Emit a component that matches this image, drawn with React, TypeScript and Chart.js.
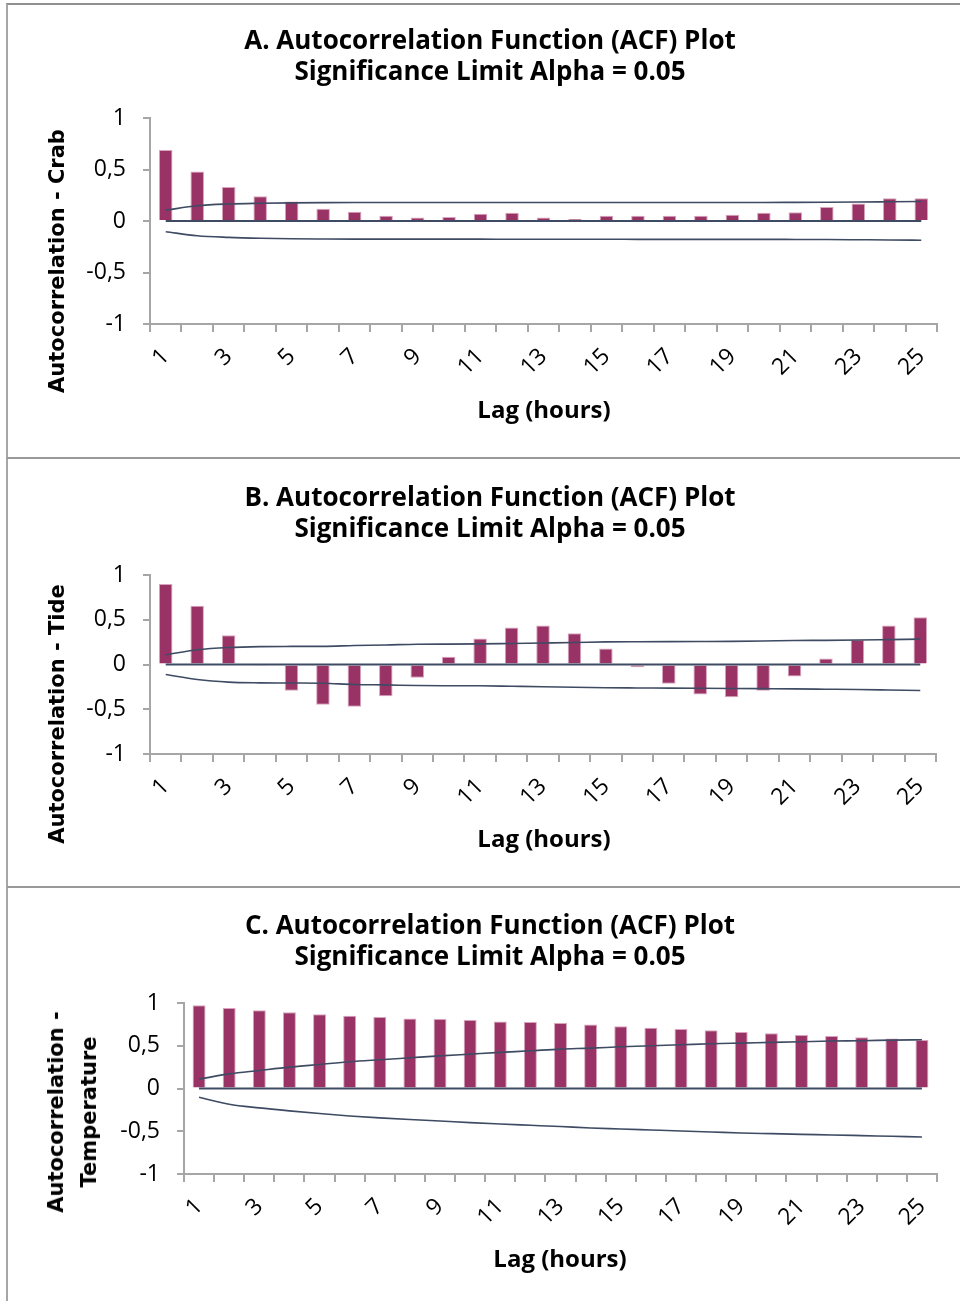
import React, { useEffect, useRef } from "react";
import { Chart, registerables } from "chart.js";

Chart.register(...registerables);

// ---------- data ----------
const lags = ["1", "2", "3", "4", "5", "6", "7", "8", "9", "10", "11", "12", "13", "14", "15", "16", "17", "18", "19", "20", "21", "22", "23", "24", "25"];
const zeroLine = [0, 0, 0, 0, 0, 0, 0, 0, 0, 0, 0, 0, 0, 0, 0, 0, 0, 0, 0, 0, 0, 0, 0, 0, 0];

const crabAcf = [0.69, 0.48, 0.33, 0.24, 0.19, 0.12, 0.09, 0.05, 0.035, 0.04, 0.07, 0.08, 0.035, 0.02, 0.05, 0.05, 0.05, 0.05, 0.06, 0.08, 0.085, 0.135, 0.17, 0.22, 0.22];
const crabUpper = [0.105, 0.148, 0.165, 0.172, 0.176, 0.178, 0.179, 0.179, 0.179, 0.179, 0.179, 0.179, 0.18, 0.18, 0.18, 0.18, 0.18, 0.18, 0.18, 0.18, 0.181, 0.182, 0.184, 0.187, 0.19];
const crabLower = [-0.104, -0.143, -0.159, -0.168, -0.173, -0.175, -0.176, -0.176, -0.176, -0.176, -0.176, -0.177, -0.177, -0.177, -0.177, -0.178, -0.178, -0.178, -0.178, -0.178, -0.179, -0.18, -0.182, -0.184, -0.187];

const tideAcf = [0.9, 0.656, 0.327, -0.015, -0.294, -0.45, -0.473, -0.354, -0.149, 0.086, 0.29, 0.413, 0.436, 0.35, 0.179, -0.03, -0.216, -0.335, -0.365, -0.294, -0.134, 0.067, 0.276, 0.436, 0.529];
const tideUpper = [0.108, 0.164, 0.19, 0.2, 0.202, 0.203, 0.212, 0.218, 0.227, 0.228, 0.23, 0.235, 0.24, 0.245, 0.253, 0.255, 0.256, 0.257, 0.258, 0.262, 0.268, 0.27, 0.273, 0.278, 0.283];
const tideLower = [-0.112, -0.168, -0.197, -0.205, -0.207, -0.21, -0.223, -0.228, -0.235, -0.237, -0.238, -0.243, -0.248, -0.255, -0.26, -0.262, -0.264, -0.266, -0.268, -0.27, -0.272, -0.276, -0.28, -0.285, -0.29];

const tempAcf = [0.973, 0.941, 0.914, 0.891, 0.867, 0.851, 0.836, 0.82, 0.812, 0.8, 0.785, 0.777, 0.765, 0.75, 0.727, 0.71, 0.695, 0.68, 0.66, 0.645, 0.625, 0.613, 0.598, 0.586, 0.566];
const tempUpper = [0.109, 0.171, 0.211, 0.25, 0.281, 0.312, 0.336, 0.359, 0.382, 0.402, 0.422, 0.441, 0.461, 0.472, 0.488, 0.5, 0.511, 0.523, 0.531, 0.539, 0.547, 0.555, 0.559, 0.566, 0.57];
const tempLower = [-0.102, -0.184, -0.227, -0.262, -0.293, -0.321, -0.344, -0.363, -0.38, -0.399, -0.415, -0.43, -0.445, -0.462, -0.473, -0.485, -0.497, -0.508, -0.52, -0.528, -0.536, -0.543, -0.551, -0.559, -0.567];

const yMin = -1;
const yMax = 1;
const yStep = 0.5;

// ---------- styles ----------
const BAR = "#993366";
const BAR_EDGE = "#d9a3bd";
const LINE = "#3e4b63";
const AXIS = "#a6a6a6";
const Y_W = 100;
const X_H = 80;

Chart.defaults.font.family = "'Open Sans', sans-serif";

type Area = { left: number; right: number; top: number; bottom: number };

function AcfChart(props: { top: number; height: number; area: Area; acf: number[]; upper: number[]; lower: number[] }) {
  const ref = useRef<HTMLCanvasElement>(null);
  useEffect(() => {
    const { area, height } = props;
    const lineDs = (data: number[], w: number, smooth: boolean) => ({
      type: "line" as const,
      data,
      borderColor: LINE,
      borderWidth: w,
      pointRadius: 0,
      fill: false,
      cubicInterpolationMode: smooth ? ("monotone" as const) : ("default" as const),
      order: 1,
    });
    const chart = new Chart(ref.current as HTMLCanvasElement, {
      type: "bar",
      data: {
        labels: lags,
        datasets: [
          lineDs(props.upper, 1.6, true),
          lineDs(props.lower, 1.6, true),
          lineDs(zeroLine, 2, false),
          {
            type: "bar" as const,
            data: props.acf,
            backgroundColor: BAR,
            borderColor: BAR_EDGE,
            borderWidth: 1,
            barPercentage: 0.43,
            categoryPercentage: 1,
            order: 2,
          },
        ] as any,
      },
      options: {
        animation: false,
        responsive: false,
        maintainAspectRatio: false,
        plugins: { legend: { display: false }, tooltip: { enabled: false }, title: { display: false } },
        layout: {
          padding: {
            left: area.left - Y_W,
            right: 960 - area.right,
            top: area.top,
            bottom: height - area.bottom - X_H,
          },
        },
        scales: {
          x: {
            offset: true,
            grid: { offset: true, drawOnChartArea: false, tickLength: 8, color: AXIS, lineWidth: 2 },
            border: { color: AXIS, width: 2 },
            ticks: {
              autoSkip: false,
              minRotation: 45,
              maxRotation: 45,
              padding: 11,
              color: "#000",
              font: { size: 23 },
              callback: (_v: any, i: number) => (i % 2 === 0 ? lags[i] : ""),
            },
            afterFit: (s: any) => {
              s.height = X_H;
            },
          },
          y: {
            min: yMin,
            max: yMax,
            ticks: {
              stepSize: yStep,
              padding: 17,
              color: "#000",
              font: { size: 23 },
              callback: (v: any) => String(v).replace(".", ","),
            },
            grid: { drawOnChartArea: false, tickLength: 7, color: AXIS, lineWidth: 2 },
            border: { color: AXIS, width: 2 },
            afterFit: (s: any) => {
              s.width = Y_W;
            },
          },
        },
      } as any,
    });
    return () => chart.destroy();
  }, []);
  return (
    <canvas
      ref={ref}
      width={960}
      height={props.height}
      style={{ position: "absolute", left: 0, top: props.top, width: 960, height: props.height }}
    />
  );
}

const titleStyle: React.CSSProperties = {
  position: "absolute",
  left: 190,
  width: 600,
  textAlign: "center",
  fontFamily: "'Open Sans', sans-serif",
  fontWeight: 700,
  fontSize: 26,
  lineHeight: "31px",
  color: "#000",
  whiteSpace: "nowrap",
};

const xTitleStyle: React.CSSProperties = {
  position: "absolute",
  fontFamily: "'Open Sans', sans-serif",
  fontWeight: 700,
  fontSize: 24,
  lineHeight: "30px",
  color: "#000",
  whiteSpace: "nowrap",
  transform: "translate(-50%, -50%)",
};

const yTitleStyle: React.CSSProperties = {
  position: "absolute",
  fontFamily: "'DejaVu Sans', sans-serif",
  fontWeight: 700,
  fontSize: 21,
  lineHeight: "33px",
  color: "#000",
  whiteSpace: "nowrap",
  textAlign: "center",
  transform: "translate(-50%, -50%) rotate(-90deg)",
};

export default function App() {
  return (
    <div style={{ position: "absolute", left: 0, top: 0, width: 960, height: 1301, overflow: "hidden", background: "#fff" }}>
      {/* panel frame */}
      <div style={{ position: "absolute", left: 6, top: 3, width: 960, height: 1310, borderLeft: "2px solid #a6a6a6", borderTop: "2px solid #8f8f8f" }} />
      <div style={{ position: "absolute", left: 7, top: 457, width: 960, height: 2, background: "#999" }} />
      <div style={{ position: "absolute", left: 7, top: 886, width: 960, height: 2, background: "#999" }} />

      <AcfChart top={0} height={458} area={{ left: 150, right: 937, top: 118, bottom: 324 }} acf={crabAcf} upper={crabUpper} lower={crabLower} />
      <AcfChart top={458} height={429} area={{ left: 150, right: 936, top: 117, bottom: 296 }} acf={tideAcf} upper={tideUpper} lower={tideLower} />
      <AcfChart top={887} height={414} area={{ left: 184, right: 937, top: 116, bottom: 287 }} acf={tempAcf} upper={tempUpper} lower={tempLower} />

      <div style={{ ...titleStyle, top: 24 }}>
        A. Autocorrelation Function (ACF) Plot
        <br />
        Significance Limit Alpha = 0.05
      </div>
      <div style={{ ...titleStyle, top: 481 }}>
        B. Autocorrelation Function (ACF) Plot
        <br />
        Significance Limit Alpha = 0.05
      </div>
      <div style={{ ...titleStyle, top: 909 }}>
        C. Autocorrelation Function (ACF) Plot
        <br />
        Significance Limit Alpha = 0.05
      </div>

      <div style={{ ...xTitleStyle, left: 544, top: 409 }}>Lag (hours)</div>
      <div style={{ ...xTitleStyle, left: 544, top: 838 }}>Lag (hours)</div>
      <div style={{ ...xTitleStyle, left: 560, top: 1258 }}>Lag (hours)</div>

      <div style={{ ...yTitleStyle, left: 57, top: 261 }}>Autocorrelation - Crab</div>
      <div style={{ ...yTitleStyle, left: 57, top: 714 }}>Autocorrelation - Tide</div>
      <div style={{ ...yTitleStyle, left: 73, top: 1112 }}>
        Autocorrelation -
        <br />
        Temperature
      </div>
    </div>
  );
}
